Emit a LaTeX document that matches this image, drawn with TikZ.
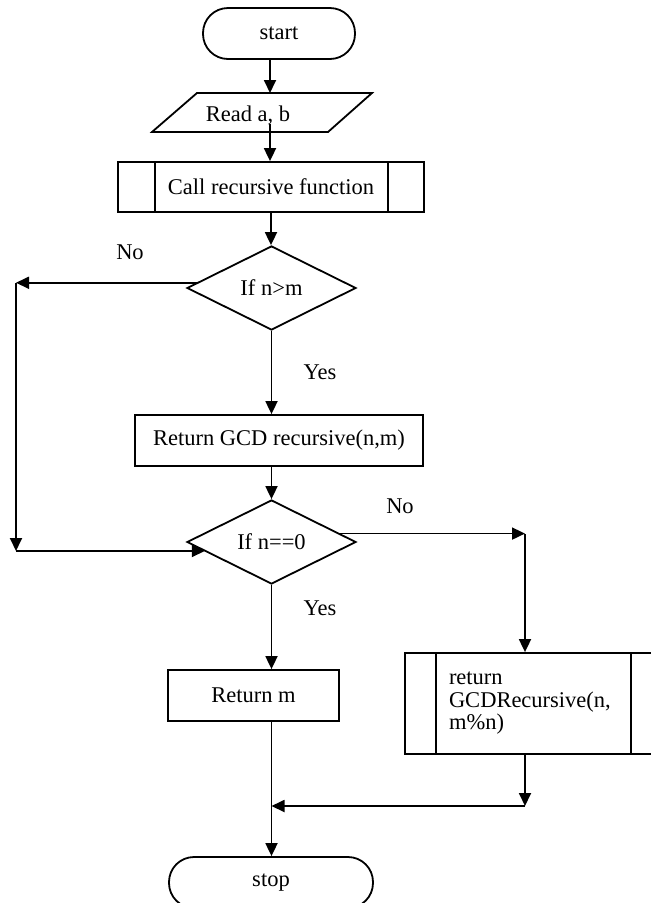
\documentclass[tikz,border=0pt]{standalone}
\usepackage{fontspec}
\setmainfont{Liberation Serif}
\usetikzlibrary{shapes.geometric,arrows.meta,calc}
\begin{document}
\begin{tikzpicture}[x=1pt,y=-1pt,
  line/.style={line width=1.8pt},
  arr/.style={line width=1.8pt, -{Triangle[length=13pt,width=12pt]}},
  box/.style={draw, line width=1.8pt, rectangle, inner sep=0pt, align=center},
  term/.style={draw, line width=1.8pt, rectangle, rounded corners=25pt, inner sep=0pt},
  dec/.style={draw, line width=1.8pt, diamond, aspect=2, inner sep=0pt},
  lbl/.style={inner sep=0pt},
  font=\fontsize{22.5}{25}\selectfont]
\useasboundingbox (0,0) rectangle (651,903);

% nodes
\node[term, minimum width=152, minimum height=51] (start) at (279,33.5) {start};
\draw[line] (197,93) -- (372,93) -- (328,132) -- (152,132) -- cycle;
\node[lbl] (read) at (248,115) {Read a, b};
\coordinate (readN) at (270,93);
\coordinate (readS) at (270,124);
\node[box, minimum width=306, minimum height=50] (call) at (271,187) {Call recursive function};
\draw[line] ($(call.north west)+(38,0)$) -- ($(call.south west)+(38,0)$);
\draw[line] ($(call.north east)+(-37,0)$) -- ($(call.south east)+(-37,0)$);
\node[dec, minimum width=169, minimum height=84] (d1) at (271.5,288) {If n>m};
\node[lbl] (no1) at (130,252) {No};
\node[lbl] (yes1) at (320,372) {Yes};
\node[box, minimum width=288, minimum height=51] (ret) at (279,440.5) {Return GCD recursive(n,m)};
\node[dec, minimum width=169, minimum height=84] (d2) at (271.5,542) {If n==0};
\node[lbl] (no2) at (400,506) {No};
\node[lbl] (yes2) at (320,608) {Yes};
\node[box, minimum width=171, minimum height=51] (retm) at (253.5,695.5) {Return m};
\node[box, minimum width=257, minimum height=101, text width=169, align=left,
      inner xsep=44pt, inner ysep=0pt, font=\fontsize{22.5}{22.5}\selectfont]
      (rec) at (533.5,703.5) {return\\GCDRecursive(n,\\m\%n)};
\draw[line] ($(rec.north west)+(32,0)$) -- ($(rec.south west)+(32,0)$);
\draw[line] ($(rec.north east)+(-32,0)$) -- ($(rec.south east)+(-32,0)$);
\node[term, minimum width=204, minimum height=51] (stop) at (271,882.5) {stop};

% helper coordinates
\coordinate (L1) at (16,283);
\coordinate (L2) at (16,551);
\coordinate (R1) at (525,534);
\coordinate (R2) at (525,806);

% connectors
\draw[arr] (start.south -| readN) -- (readN);
\draw[arr] (readS) -- (call.north -| readS);
\draw[arr] (call.south) -- (call.south |- d1.north);
\draw[arr] (d1.176) -- (d1.176 -| L1);
\draw[arr] (L1) -- (L2);
\draw[arr] (L2) -- (L2 -| d2.188);
\draw[arr] (d1.south) -- (d1.south |- ret.north);
\draw[arr] (d1.south |- ret.south) -- (d2.north);
\draw[arr] (d2.7) -- (d2.7 -| R1);
\draw[arr] (R1) -- (R1 |- rec.north);
\draw[arr] (d2.south) -- (d2.south |- retm.north);
\draw[arr] (rec.south -| R1) -- (R2);
\draw[arr] (R2) -- (R2 -| d2.south);
\draw[arr] (d2.south |- retm.south) -- (d2.south |- stop.north);
\end{tikzpicture}
\end{document}
